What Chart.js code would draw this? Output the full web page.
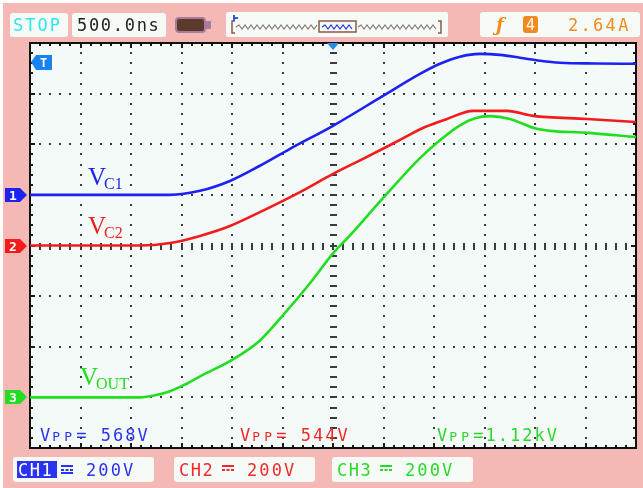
<!DOCTYPE html>
<html>
<head>
<meta charset="utf-8">
<script src="https://cdn.jsdelivr.net/npm/chart.js@4.4.1/dist/chart.umd.min.js"></script>
<style>
  html, body { margin: 0; padding: 0; background: #ffffff; }
  #wrap { position: relative; width: 643px; height: 488px; }
  canvas { display: block; }
</style>
</head>
<body>
<div id="wrap"><canvas id="scope" width="643" height="488"></canvas></div>
<script>
// Time base: 500 ns/div, 12 divisions across the screen (trigger at centre)
const TIME_PER_DIV = 500;
const H_DIVS = 12;
const V_DIVS = 8;

// Channel settings (V/div) and ground-marker positions in divisions from centre
const channelNames = ['CH1', 'CH2', 'CH3'];
const voltsPerDiv = [200, 200, 200];
const groundOffsetDiv = [1, 0, -3];
const vppLabels = ['568V', '544V', '1.12kV'];
const traceLabels = ['C1', 'C2', 'OUT'];

// CH1 : V_C1
const ch1TimeNs = [-3000, -2200, -1614, -1317, -1020, -723, -426, 0, 495, 861, 1059, 1257, 1455, 1653, 1851, 2050, 2247, 2600, 3000];
const ch1Volts  = [0, 0, 0, 16, 55, 115, 182, 273, 391, 478, 518, 546, 557, 553, 542, 530, 522, 519, 518];

// CH2 : V_C2
const ch2TimeNs = [-3000, -2400, -1911, -1614, -1317, -1020, -723, -327, 0, 317, 663, 911, 1129, 1386, 1723, 1980, 2515, 3000];
const ch2Volts  = [0, 0, 0, 10, 38, 77, 132, 211, 283, 346, 417, 468, 500, 532, 532, 512, 500, 488];

// CH3 : V_OUT
const ch3TimeNs = [-3000, -2400, -1911, -1762, -1614, -1465, -1317, -990, -723, -505, -228, 0, 168, 495, 861, 1059, 1257, 1406, 1554, 1752, 2000, 2149, 2495, 3000];
const ch3Volts  = [0, 0, 0, 8, 24, 51, 83, 150, 225, 320, 451, 569, 640, 787, 945, 1016, 1075, 1103, 1111, 1100, 1063, 1053, 1046, 1028];

const traceColors = ['#1c22f2', '#f21c1c', '#22dd22'];
const textColors  = ['#2a34f0', '#f02a2a', '#2ad82a'];

function toPoints(times, volts, ch) {
  return times.map((t, i) => ({ x: t, y: groundOffsetDiv[ch] + volts[i] / voltsPerDiv[ch] }));
}

const MONO = '"DejaVu Sans Mono", "Liberation Mono", monospace';

function roundRect(ctx, x, y, w, h, r, fill, stroke) {
  ctx.beginPath();
  ctx.roundRect(x, y, w, h, r);
  if (fill) { ctx.fillStyle = fill; ctx.fill(); }
  if (stroke) { ctx.strokeStyle = stroke; ctx.stroke(); }
}

function monoText(ctx, str, x, y, color, size, spacing) {
  ctx.font = size + 'px ' + MONO;
  ctx.letterSpacing = spacing + 'px';
  ctx.fillStyle = color;
  ctx.textBaseline = 'alphabetic';
  ctx.textAlign = 'left';
  ctx.fillText(str, x, y);
  const w = ctx.measureText(str).width;
  ctx.letterSpacing = '0px';
  return x + w;
}

// Screen background, graticule and frame
const screenPlugin = {
  id: 'screen',
  beforeDraw(chart) {
    const { ctx, chartArea: a, scales } = chart;
    const xs = scales.x, ys = scales.y;
    ctx.save();
    ctx.fillStyle = '#ffffff';
    ctx.fillRect(0, 0, chart.width, chart.height);
    ctx.fillStyle = '#f5b9b5';
    ctx.fillRect(3, 3, chart.width - 3, chart.height - 3);
    ctx.fillStyle = '#f4faf7';
    ctx.fillRect(a.left, a.top, a.right - a.left, a.bottom - a.top);

    const dot = '#3a3a3a';
    ctx.fillStyle = dot;
    const sub = 5;
    // vertical graticule lines
    for (let i = 1; i < H_DIVS; i++) {
      const t = -TIME_PER_DIV * H_DIVS / 2 + i * TIME_PER_DIV;
      const px = Math.round(xs.getPixelForValue(t));
      const centre = (i === H_DIVS / 2);
      for (let k = 1; k < V_DIVS * sub; k++) {
        const py = Math.round(ys.getPixelForValue(-V_DIVS / 2 + k / sub));
        if (centre) ctx.fillRect(px - 3, py - 1, 7, 2);
        else ctx.fillRect(px - 1, py - 1, 2, 2);
      }
    }
    // horizontal graticule lines
    for (let j = 1; j < V_DIVS; j++) {
      const v = -V_DIVS / 2 + j;
      const py = Math.round(ys.getPixelForValue(v));
      const centre = (j === V_DIVS / 2);
      for (let k = 1; k < H_DIVS * sub; k++) {
        const px = Math.round(xs.getPixelForValue(-TIME_PER_DIV * H_DIVS / 2 + k * TIME_PER_DIV / sub));
        if (centre) ctx.fillRect(px - 1, py - 3, 2, 7);
        else ctx.fillRect(px - 1, py - 1, 2, 2);
      }
    }
    // frame ticks
    ctx.fillStyle = '#1a1a1a';
    for (let k = 1; k < H_DIVS * sub; k++) {
      const px = Math.round(xs.getPixelForValue(-TIME_PER_DIV * H_DIVS / 2 + k * TIME_PER_DIV / sub));
      const len = (k % sub === 0) ? 5 : 3;
      ctx.fillRect(px - 1, a.top, 2, len);
      ctx.fillRect(px - 1, a.bottom - len, 2, len);
    }
    for (let k = 1; k < V_DIVS * sub; k++) {
      const py = Math.round(ys.getPixelForValue(-V_DIVS / 2 + k / sub));
      const len = (k % sub === 0) ? 5 : 3;
      ctx.fillRect(a.left, py - 1, len, 2);
      ctx.fillRect(a.right - len, py - 1, len, 2);
    }
    ctx.strokeStyle = '#111111';
    ctx.lineWidth = 2;
    ctx.strokeRect(a.left, a.top, a.right - a.left, a.bottom - a.top);
    ctx.restore();
  },
  afterDraw(chart) {
    const { ctx, chartArea: a, scales } = chart;
    const xs = scales.x, ys = scales.y;
    ctx.save();

    // ---- top status bar ----
    roundRect(ctx, 10, 13, 58, 24, 3, '#f6fbf8');
    monoText(ctx, 'STOP', 13, 31, '#2fe6ee', 17, 2);
    roundRect(ctx, 72, 13, 94, 24, 3, '#f6fbf8');
    monoText(ctx, '500.0ns', 77, 31, '#222222', 17, 1.7);
    // battery indicator
    ctx.lineWidth = 2;
    roundRect(ctx, 176, 18, 29, 14, 3, '#5c3a2c', '#a77c9c');
    ctx.fillStyle = '#a77c9c';
    ctx.fillRect(205, 21, 6, 8);
    // memory overview strip
    roundRect(ctx, 226, 12, 222, 25, 2, '#f6fbf8');
    ctx.strokeStyle = '#8a5a4a';
    ctx.lineWidth = 1.5;
    ctx.beginPath();
    ctx.moveTo(235, 21); ctx.lineTo(232, 21); ctx.lineTo(232, 33); ctx.lineTo(235, 33);
    ctx.moveTo(438, 21); ctx.lineTo(441, 21); ctx.lineTo(441, 33); ctx.lineTo(438, 33);
    ctx.stroke();
    function squiggle(x0, x1, color) {
      ctx.strokeStyle = color;
      ctx.lineWidth = 1.2;
      ctx.beginPath();
      let up = true;
      ctx.moveTo(x0, 27);
      for (let x = x0 + 3; x <= x1; x += 3) { ctx.lineTo(x, up ? 25 : 29); up = !up; }
      ctx.stroke();
    }
    squiggle(236, 318, '#8a7a70');
    squiggle(358, 437, '#8a7a70');
    squiggle(322, 354, '#2a34e0');
    ctx.strokeStyle = '#8a5a4a';
    ctx.lineWidth = 1.5;
    ctx.strokeRect(319, 21, 37, 11);
    ctx.fillStyle = '#2a5ae0';
    ctx.fillRect(233, 15, 2, 6);
    ctx.fillRect(233, 17, 5, 2);

    roundRect(ctx, 480, 12, 160, 25, 3, '#f6fbf8');
    ctx.font = 'bold italic 18px "DejaVu Serif", serif';
    ctx.fillStyle = '#f28a1e';
    ctx.fillText('ƒ', 496, 31);
    roundRect(ctx, 523, 16, 15, 17, 3, '#f28a1e');
    monoText(ctx, '4', 526, 30, '#ffffff', 15, 0);
    monoText(ctx, '2.64A', 568, 31, '#f28a1e', 17, 2.3);

    // ---- trigger position marker ----
    const tx = xs.getPixelForValue(0);
    ctx.fillStyle = '#2a8ae8';
    ctx.beginPath();
    ctx.moveTo(tx - 6, a.top); ctx.lineTo(tx + 6, a.top); ctx.lineTo(tx, a.top + 7); ctx.closePath();
    ctx.fill();

    // ---- trigger level marker "T" ----
    ctx.fillStyle = '#1a82f0';
    ctx.beginPath();
    ctx.moveTo(31, 62); ctx.lineTo(36, 55); ctx.lineTo(52, 55); ctx.lineTo(52, 70); ctx.lineTo(36, 70); ctx.closePath();
    ctx.fill();
    ctx.font = 'bold 12px ' + MONO;
    ctx.fillStyle = '#ffffff';
    ctx.fillText('T', 40, 67);

    // ---- channel ground markers ----
    for (let c = 0; c < 3; c++) {
      const py = Math.round(ys.getPixelForValue(groundOffsetDiv[c]));
      ctx.fillStyle = traceColors[c];
      ctx.beginPath();
      ctx.moveTo(5, py - 7); ctx.lineTo(20, py - 7); ctx.lineTo(27, py); ctx.lineTo(20, py + 7); ctx.lineTo(5, py + 7); ctx.closePath();
      ctx.fill();
      ctx.font = 'bold 13px ' + MONO;
      ctx.fillStyle = '#ffffff';
      ctx.fillText(String(c + 1), 9, py + 5);
    }

    // ---- Vpp readouts ----
    const vppX = [40, 240, 437];
    for (let c = 0; c < 3; c++) {
      let x = monoText(ctx, 'V', vppX[c], 441, textColors[c], 17, 2);
      x = monoText(ctx, 'PP', x, 441, textColors[c], 13, 4.2);
      monoText(ctx, (c === 2 ? '=' : '= ') + vppLabels[c], x, 441, textColors[c], 17, 2);
    }

    // ---- channel scale boxes ----
    const boxX = [13, 174, 332];
    for (let c = 0; c < 3; c++) {
      roundRect(ctx, boxX[c], 457, 141, 25, 3, '#f6fbf8');
      const bx = boxX[c] + 4;
      if (c === 0) {
        ctx.fillStyle = textColors[0];
        ctx.fillRect(bx, 461, 40, 17);
        monoText(ctx, channelNames[c], bx + 1, 476, '#ffffff', 17, 1.5);
      } else {
        monoText(ctx, channelNames[c], bx + 1, 476, textColors[c], 17, 1.5);
      }
      // DC coupling glyph
      ctx.fillStyle = textColors[c];
      const gx = bx + 44;
      ctx.fillRect(gx, 465, 12, 2);
      for (let d = 0; d < 3; d++) ctx.fillRect(gx + d * 4.5, 469, 3, 2);
      if (c === 0) ctx.fillRect(gx, 472, 12, 2);
      monoText(ctx, voltsPerDiv[c] + 'V', boxX[c] + 73, 476, textColors[c], 17, 2.1);
    }

    // ---- trace name labels ----
    const labelPos = [[88, 185], [88, 234], [80, 385]];
    for (let c = 0; c < 3; c++) {
      const [lx, ly] = labelPos[c];
      ctx.font = '25px "Liberation Serif", "DejaVu Serif", serif';
      ctx.fillStyle = traceColors[c];
      ctx.fillText('V', lx, ly);
      const vw = ctx.measureText('V').width;
      ctx.font = '16px "Liberation Serif", "DejaVu Serif", serif';
      ctx.fillText(traceLabels[c], lx + vw - 2, ly + 4);
    }
    ctx.restore();
  }
};

const datasets = [
  toPoints(ch1TimeNs, ch1Volts, 0),
  toPoints(ch2TimeNs, ch2Volts, 1),
  toPoints(ch3TimeNs, ch3Volts, 2)
].map((pts, c) => ({
  label: channelNames[c],
  data: pts,
  borderColor: traceColors[c],
  borderWidth: 2.6,
  pointRadius: 0,
  fill: false,
  cubicInterpolationMode: 'monotone'
}));

new Chart(document.getElementById('scope'), {
  type: 'line',
  data: { datasets },
  options: {
    responsive: false,
    animation: false,
    devicePixelRatio: 1,
    layout: { padding: { left: 30, top: 43, right: 7, bottom: 40 } },
    plugins: { legend: { display: false }, tooltip: { enabled: false } },
    scales: {
      x: { type: 'linear', min: -TIME_PER_DIV * H_DIVS / 2, max: TIME_PER_DIV * H_DIVS / 2, display: false },
      y: { type: 'linear', min: -V_DIVS / 2, max: V_DIVS / 2, display: false }
    }
  },
  plugins: [screenPlugin]
});
</script>
</body>
</html>
